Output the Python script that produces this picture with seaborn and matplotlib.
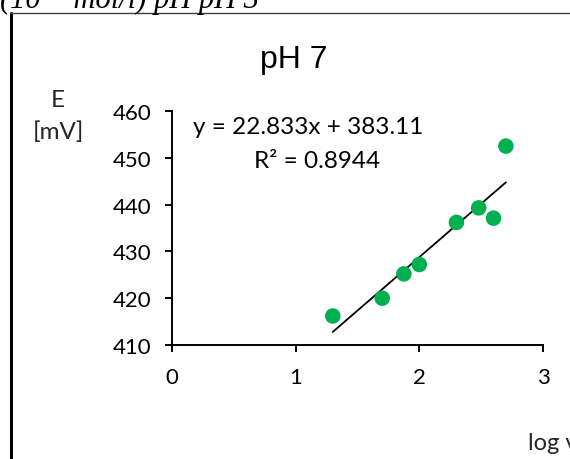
import numpy as np
import pandas as pd
import matplotlib
matplotlib.use("Agg")
import matplotlib.pyplot as plt
import seaborn as sns
from matplotlib.lines import Line2D

# ---- data ----
log_v = [1.30, 1.70, 1.875, 2.00, 2.30, 2.48, 2.60, 2.70]
E_mV = [416.2, 420.0, 425.2, 427.2, 436.2, 439.3, 437.1, 452.5]
slope = 22.833
intercept = 383.11
r_squared = 0.8944
x_ticks = [0, 1, 2, 3]
y_ticks = [410, 420, 430, 440, 450, 460]
title = "pH 7"
header = "(10⁻³ mol/l) pH pH 3"

sns.set_theme(style="white")
plt.rcParams['font.family'] = ['Lato', 'DejaVu Sans']

fig = plt.figure(figsize=(5.7, 4.6), dpi=100)
ax = fig.add_axes([172/570, 1-346/460, (543-172)/570, (346-112)/460])

df = pd.DataFrame({"logv": log_v, "E": E_mV})
sns.scatterplot(data=df, x="logv", y="E", ax=ax, color="#00B050", s=125,
                edgecolor="none", zorder=3, clip_on=False)

xfit = np.array([min(log_v), max(log_v)])
sns.lineplot(x=xfit, y=slope * xfit + intercept, ax=ax, color="black", lw=1.3, zorder=2)

ax.set_xlim(0, 3)
ax.set_ylim(410, 460)
ax.set_xticks(x_ticks)
ax.set_yticks(y_ticks)
ax.set_xlabel("")
ax.set_ylabel("")
for s in ["top", "right"]:
    ax.spines[s].set_visible(False)
for s in ["left", "bottom"]:
    ax.spines[s].set_color("black")
    ax.spines[s].set_linewidth(1.4)
ax.tick_params(axis="both", which="major", direction="out", length=5, width=1.4,
               colors="black", labelsize=16, pad=10, bottom=True, left=True)
ax.tick_params(axis="x", pad=11)

fig.text(308/570, 1-127/460, f"y = {slope}x + {intercept}",
         ha="center", va="center", fontsize=17.5, color="black")
fig.text(317/570, 1-162/460, f"R² = {r_squared}",
         ha="center", va="center", fontsize=17.5, color="black")

fig.text(294/570, 1-60/460, title, ha="center", va="center", fontsize=23,
         family=["Liberation Sans", "DejaVu Sans"], color="black")
fig.text(58/570, 1-101/460, "E", ha="center", va="center", fontsize=17.5)
fig.text(58/570, 1-132/460, "[mV]", ha="center", va="center", fontsize=17.5)
fig.text(528/570, 1-444/460, "log v", ha="left", va="center", fontsize=17)

fig.text(0.0, 1-0/460, header, ha="left", va="center", fontsize=22, style="italic",
         family=["Liberation Serif", "DejaVu Serif"], color="black")

# outer frame
fig.add_artist(Line2D([11/570, 11/570], [0, 1-14/460], transform=fig.transFigure,
                      color="black", lw=2.2))
fig.add_artist(Line2D([10/570, 1], [1-14/460, 1-14/460], transform=fig.transFigure,
                      color="#404040", lw=1.0))

fig.savefig("out.png", dpi=100)
